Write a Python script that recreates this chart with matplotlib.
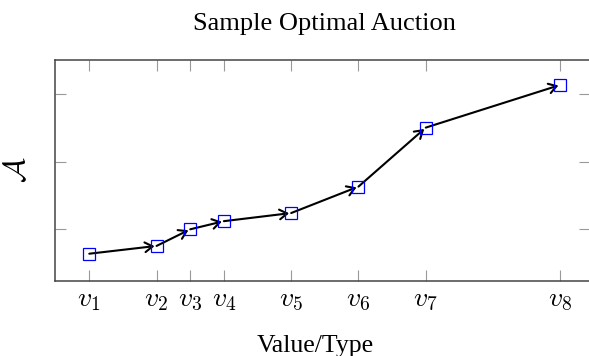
import matplotlib
matplotlib.use("Agg")
import matplotlib.pyplot as plt

plt.rcParams['mathtext.fontset'] = 'cm'
plt.rcParams['font.family'] = ['Liberation Serif', 'DejaVu Serif']

# data
x_vals = [1, 3, 4, 5, 7, 9, 11, 15]
y_vals = [0.64, 0.755, 1.0, 1.12, 1.24, 1.63, 2.50, 3.13]
x_labels = [r'$v_1$', r'$v_2$', r'$v_3$', r'$v_4$', r'$v_5$', r'$v_6$', r'$v_7$', r'$v_8$']
y_ticks = [1, 2, 3]

W, H = 589, 356
fig = plt.figure(figsize=(W / 100, H / 100), dpi=100)
ax = fig.add_axes([55.3 / W, (H - 280.7) / H, (590 - 55.3) / W, (280.7 - 60) / H])

ax.set_xlim(-0.01, 15.88)
ax.set_ylim(0.242, 3.497)

# segments with arrowheads
for i in range(len(x_vals) - 1):
    ax.annotate('', xy=(x_vals[i + 1], y_vals[i + 1]), xytext=(x_vals[i], y_vals[i]),
                arrowprops=dict(arrowstyle='->,head_length=0.55,head_width=0.35',
                                color='black', lw=1.5, shrinkA=0, shrinkB=1.5),
                zorder=2)

ax.plot(x_vals, y_vals, linestyle='none', marker='s', markersize=8.2,
        markerfacecolor='none', markeredgecolor='blue', markeredgewidth=0.9, zorder=3)

ax.set_xticks(x_vals)
ax.set_xticklabels(x_labels, fontsize=20)
ax.set_yticks(y_ticks)
ax.set_yticklabels([])

ax.tick_params(axis='both', which='major', direction='in', length=7.8, width=0.8,
               color='#999999', top=True, right=True, pad=5)
for s in ax.spines.values():
    s.set_color('#444444')
    s.set_linewidth(1.1)

fig.text(324 / W, 1 - 30 / H, 'Sample Optimal Auction', fontsize=19,
         ha='center', va='baseline')
fig.text(315.5 / W, 1 - 351.7 / H, 'Value/Type', fontsize=18.5,
         ha='center', va='baseline')
fig.text(18 / W, 1 - 170 / H, r'$\mathcal{A}$', fontsize=22, rotation=90,
         ha='center', va='center')

fig.savefig('out.png', dpi=100)
